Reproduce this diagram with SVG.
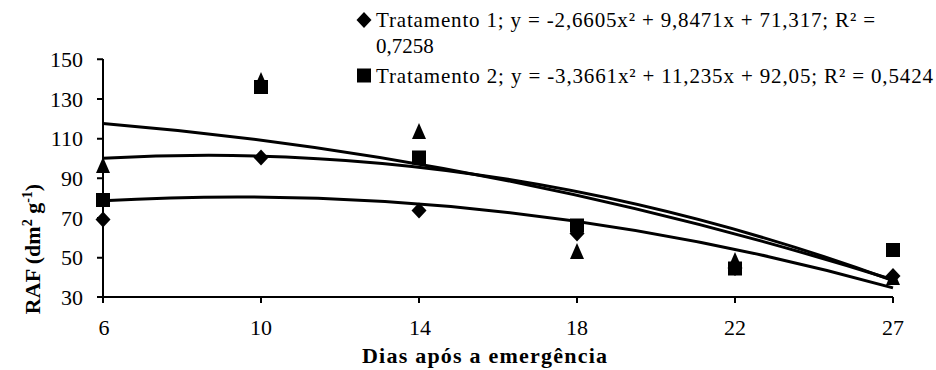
<svg xmlns="http://www.w3.org/2000/svg" xmlns:xlink="http://www.w3.org/1999/xlink" width="936" height="370" viewBox="0 0 936 370" font-family="Liberation Serif, DejaVu Serif, serif">
<style>
text{font-family:"Liberation Serif","DejaVu Serif",serif;fill:#000}
.tick{font-size:22px}
.leg{font-size:21px}
.title{font-size:22px;font-weight:bold}
.ax{stroke:#000;stroke-width:2;fill:none}
.fit{stroke:#000;stroke-width:3;fill:none}
</style>
<defs>
<path id="dia" d="M0,-8 L7.5,0 L0,8 L-7.5,0Z" fill="#000"/>
<rect id="sq" x="-7" y="-7" width="14" height="14" fill="#000"/>
<path id="tri" d="M0,-9 L7,7 L-7,7Z" fill="#000"/>
</defs>
<rect width="936" height="370" fill="#fff"/>
<g id="axes">
<path class="ax" d="M103,59 V297 H893"/>
<path class="ax" d="M97,59.3 H103 M97,99 H103 M97,138.7 H103 M97,178.3 H103 M97,218 H103 M97,257.7 H103 M97,297 H103"/>
<path class="ax" d="M103,297 V303 M261,297 V303 M419,297 V303 M577,297 V303 M735,297 V303 M893,297 V303"/>
</g>
<g id="ylabels" class="tick" text-anchor="end">
<text x="83" y="67">150</text>
<text x="83" y="106.5">130</text>
<text x="83" y="146">110</text>
<text x="83" y="186">90</text>
<text x="83" y="225.5">70</text>
<text x="83" y="265">50</text>
<text x="83" y="304.5">30</text>
</g>
<g id="xlabels" class="tick" text-anchor="middle">
<text x="104" y="335">6</text>
<text x="261" y="335">10</text>
<text x="420" y="335">14</text>
<text x="577" y="335">18</text>
<text x="735" y="335">22</text>
<text x="893" y="335">27</text>
</g>
<text id="xtitle" class="title" x="484.5" y="363" text-anchor="middle" textLength="245" lengthAdjust="spacing">Dias após a emergência</text>
<text id="ytitle" class="title" transform="translate(40,249) rotate(-90)" text-anchor="middle">RAF (dm<tspan font-size="14" dy="-8">2</tspan><tspan dy="8"> g</tspan><tspan font-size="14" dy="-8">-1</tspan><tspan dy="8">)</tspan></text>
<g id="connectors">
<path class="fit" d="M103,200.8 Q498,178.36 893,287.83"/>
<path class="fit" d="M103,158.33 Q498,136 893,280.58"/>
<path class="fit" d="M103,123.46 Q498,156.07 893,279.77"/>
</g>
<g id="triangles">
<use xlink:href="#tri" x="103" y="166"/>
<use xlink:href="#tri" x="261" y="81"/>
<use xlink:href="#tri" x="419" y="132"/>
<use xlink:href="#tri" x="577" y="252"/>
<use xlink:href="#tri" x="735" y="261"/>
<use xlink:href="#tri" x="893" y="278"/>
</g>
<g id="diamonds">
<use xlink:href="#dia" x="103" y="219.5"/>
<use xlink:href="#dia" x="261" y="157.5"/>
<use xlink:href="#dia" x="419" y="210.5"/>
<use xlink:href="#dia" x="577" y="233.5"/>
<use xlink:href="#dia" x="735" y="268"/>
<use xlink:href="#dia" x="893" y="276"/>
</g>
<g id="squares">
<use xlink:href="#sq" x="103" y="200"/>
<use xlink:href="#sq" x="261" y="87"/>
<use xlink:href="#sq" x="419" y="157.5"/>
<use xlink:href="#sq" x="577" y="225.5"/>
<use xlink:href="#sq" x="735" y="268.5"/>
<use xlink:href="#sq" x="893" y="250"/>
</g>
<g id="legend" class="leg">
<use xlink:href="#dia" x="364" y="20"/>
<text x="376" y="27" textLength="499" lengthAdjust="spacing">Tratamento 1; y = -2,6605x² + 9,8471x + 71,317; R² =</text>
<text x="376" y="53">0,7258</text>
<use xlink:href="#sq" x="364" y="75.5"/>
<text x="376" y="83" textLength="557" lengthAdjust="spacing">Tratamento 2; y = -3,3661x² + 11,235x + 92,05; R² = 0,5424</text>
</g>
</svg>
